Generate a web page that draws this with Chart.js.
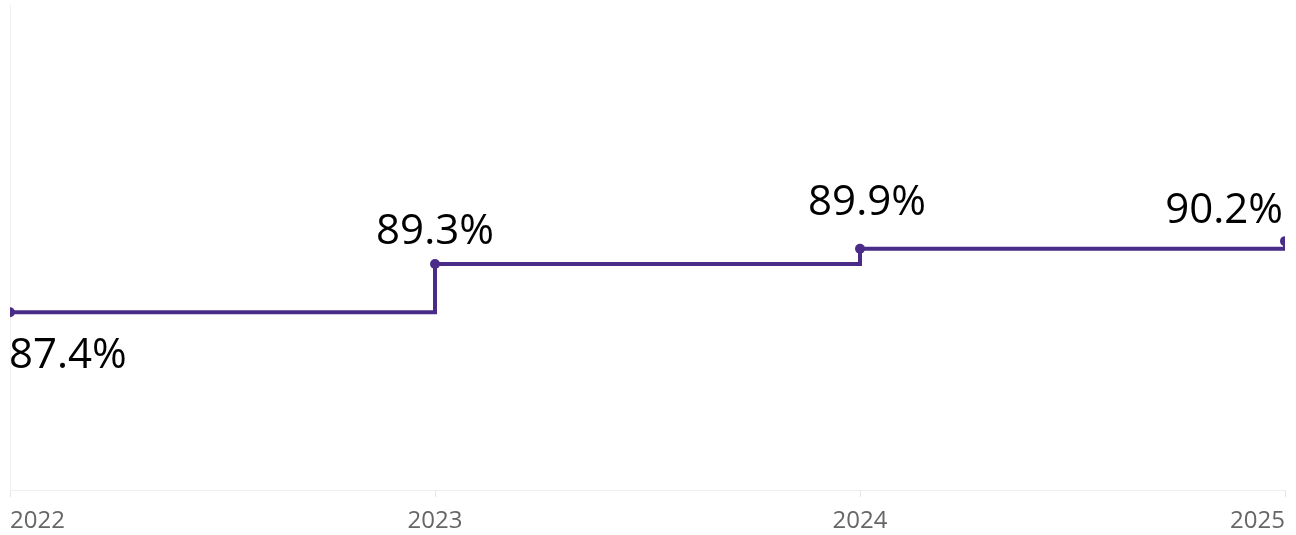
<!DOCTYPE html>
<html>
<head>
<meta charset="utf-8">
<script src="https://cdn.jsdelivr.net/npm/chart.js@4/dist/chart.umd.min.js"></script>
<style>
  html, body { margin: 0; padding: 0; background: #ffffff; overflow: hidden; }
  #wrap { width: 1296px; height: 535px; }
</style>
</head>
<body>
<div id="wrap"><canvas id="chart" width="1296" height="535"></canvas></div>
<script>
// Yearly share, in percent
const years = ['2022', '2023', '2024', '2025'];
const shareValues = [87.4, 89.3, 89.9, 90.2];
const valueLabels = ['87.4%', '89.3%', '89.9%', '90.2%'];

const LINE_COLOR = '#4a2c88';
const FONT_FAMILY = '"Open Sans", "Noto Sans", sans-serif';
const LABEL_FONT = '400 42px ' + FONT_FAMILY;

// Where each value label sits relative to its point: [dx, dy, textAlign]
const labelPlacement = [
  [-1, 56, 'left'],
  [0, -20, 'center'],
  [7, -34, 'center'],
  [-2, -18, 'right']
];

const valueLabelPlugin = {
  id: 'valueLabels',
  afterDatasetsDraw(chart) {
    const meta = chart.getDatasetMeta(0);
    const ctx = chart.ctx;
    ctx.save();
    ctx.font = LABEL_FONT;
    ctx.fillStyle = '#000000';
    ctx.textBaseline = 'alphabetic';
    meta.data.forEach((pt, i) => {
      const [dx, dy, align] = labelPlacement[i];
      ctx.textAlign = align;
      ctx.fillText(valueLabels[i], pt.x + dx, pt.y + dy);
    });
    ctx.restore();
  }
};

new Chart(document.getElementById('chart'), {
  type: 'line',
  data: {
    labels: years,
    datasets: [{
      data: shareValues,
      stepped: true,
      borderColor: LINE_COLOR,
      backgroundColor: LINE_COLOR,
      borderWidth: 4,
      pointRadius: 5,
      pointHoverRadius: 5,
      pointBackgroundColor: LINE_COLOR,
      pointBorderWidth: 0,
      clip: 0
    }]
  },
  options: {
    responsive: false,
    animation: false,
    events: [],
    layout: { padding: { left: 9, right: 11, top: 5, bottom: 0 } },
    plugins: {
      legend: { display: false },
      tooltip: { enabled: false }
    },
    scales: {
      x: {
        offset: false,
        afterFit(scale) { scale.height = 45; },
        grid: {
          drawOnChartArea: false,
          drawTicks: true,
          tickLength: 7,
          color: '#e6e6e6'
        },
        border: { display: true, color: '#eeeeee', width: 1 },
        ticks: {
          align: 'inner',
          color: '#666666',
          font: { size: 24, family: FONT_FAMILY },
          padding: 10,
          maxRotation: 0,
          autoSkip: false
        }
      },
      y: {
        min: 80.4,
        max: 99.5,
        afterFit(scale) { scale.width = 0; },
        grid: { display: false },
        border: { display: true, color: '#f0f0f0', width: 1 },
        ticks: { display: false }
      }
    }
  },
  plugins: [valueLabelPlugin]
});
</script>
</body>
</html>
